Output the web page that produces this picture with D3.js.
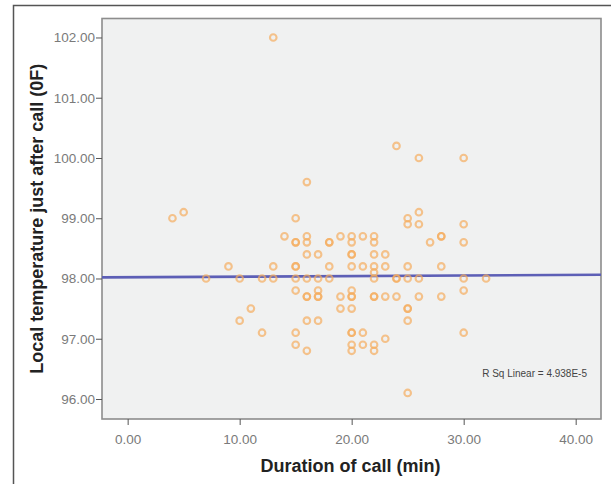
<!DOCTYPE html>
<html><head><meta charset="utf-8">
<script src="https://cdn.jsdelivr.net/npm/d3@7"></script>
<style>
html,body{margin:0;padding:0;background:#fff;}
svg{display:block;font-family:"Liberation Sans",Arial,sans-serif;}
</style></head>
<body>
<svg id="c" width="611" height="484"></svg>
<script>
const duration = [4,5,7,9,10,10,11,12,12,13,13,13,14,
15,15,15,15,15,15,15,15,15,
16,16,16,16,16,16,16,16,16,
17,17,17,17,17,17,
18,18,18,18,
19,19,19,
20,20,20,20,20,20,20,20,20,20,20,20,20,
21,21,21,21,
22,22,22,22,22,22,22,22,22,22,
23,23,23,23,
24,24,24,24,
25,25,25,25,25,25,25,25,
26,26,26,26,26,
27,
28,28,28,28,
30,30,30,30,30,30,
32];
const temperature = [99.0,99.1,98.0,98.2,98.0,97.3,97.5,98.0,97.1,98.2,98.0,102.0,98.7,
99.0,98.6,98.2,98.2,98.0,97.8,97.1,96.9,98.6,
99.6,98.7,98.6,98.4,98.0,97.7,97.7,97.3,96.8,
98.4,98.0,97.8,97.7,97.7,97.3,
98.6,98.6,98.2,98.0,
98.7,97.7,97.5,
98.7,98.6,98.4,98.4,98.2,97.8,97.7,97.7,97.5,97.1,97.1,96.9,96.8,
98.7,98.2,97.1,96.9,
98.7,98.6,98.4,98.2,98.1,98.0,97.7,97.7,96.9,96.8,
98.4,98.2,97.7,97.0,
100.2,98.0,98.0,97.7,
99.0,98.9,98.2,98.0,97.5,97.5,97.3,96.1,
100.0,99.1,98.9,98.0,97.7,
98.6,
98.7,98.7,98.2,97.7,
100.0,98.9,98.6,98.0,97.8,97.1,
98.0];
const xTicks = [0,10,20,30,40];
const yTicks = [96,97,98,99,100,101,102];
const fitLine = {intercept: 98.02, slope: 0.001};
const rsqLabel = "R Sq Linear = 4.938E-5";
const xTitle = "Duration of call (min)";
const yTitle = "Local temperature just after call (0F)";

const svg = d3.select("#c");
const L = 102, R = 601, T = 18.5, B = 419;
const x = d3.scaleLinear().domain([-2.29, 42.26]).range([L, R]);
const y = d3.scaleLinear().domain([95.668, 102.315]).range([B, T]);

// outer frame
svg.append("path").attr("d", `M13.5,${484}V5.5H611`).attr("fill","none").attr("stroke","#555").attr("stroke-width",1.5);

// plot background
svg.append("rect").attr("x",L).attr("y",T).attr("width",R-L).attr("height",B-T)
  .attr("fill","#f0f1f1").attr("stroke","#8d8d8d").attr("stroke-width",1.6);

// regression line
const xd = x.domain();
svg.append("line")
  .attr("x1", x(xd[0])).attr("x2", x(xd[1]))
  .attr("y1", y(fitLine.intercept + fitLine.slope*xd[0]))
  .attr("y2", y(fitLine.intercept + fitLine.slope*xd[1]))
  .attr("stroke","#5d5fb6").attr("stroke-width",2.6);

// points
svg.append("g").selectAll("circle").data(duration.map((d,i)=>[d,temperature[i]])).join("circle")
  .attr("cx", d=>x(d[0])).attr("cy", d=>y(d[1])).attr("r",3.3)
  .attr("fill","none").attr("stroke","#f5ad5e").attr("stroke-opacity",0.7).attr("stroke-width",2.1);

// axes
const xAxis = d3.axisBottom(x).tickValues(xTicks).tickFormat(d3.format(".2f")).tickSize(6).tickSizeOuter(0);
const gx = svg.append("g").attr("transform",`translate(0,${B})`).call(xAxis);
gx.select(".domain").remove();
gx.selectAll(".tick line").attr("stroke","#555");
gx.selectAll(".tick text").attr("fill","#7a7a7a").attr("font-size",13.5).attr("dy","1.2em")
  .attr("font-family","Liberation Sans, Arial, sans-serif");

const yAxis = d3.axisLeft(y).tickValues(yTicks).tickFormat(d3.format(".2f")).tickSize(6).tickSizeOuter(0);
const gy = svg.append("g").attr("transform",`translate(${L},0)`).call(yAxis);
gy.select(".domain").remove();
gy.selectAll(".tick line").attr("stroke","#555");
gy.selectAll(".tick text").attr("fill","#7a7a7a").attr("font-size",13.5).attr("x",-7)
  .attr("font-family","Liberation Sans, Arial, sans-serif");

// titles
svg.append("text").attr("x",(L+R)/2 - 1).attr("y",472).attr("text-anchor","middle")
  .attr("font-size",18).attr("font-weight","bold").attr("fill","#222").text(xTitle);
svg.append("text").attr("transform",`translate(43,${(T+B)/2}) rotate(-90)`).attr("text-anchor","middle")
  .attr("font-size",18).attr("font-weight","bold").attr("fill","#222").text(yTitle);

svg.append("text").attr("x",587).attr("y",377).attr("text-anchor","end")
  .attr("font-size",10).attr("fill","#444").text(rsqLabel);
</script>
</body></html>
